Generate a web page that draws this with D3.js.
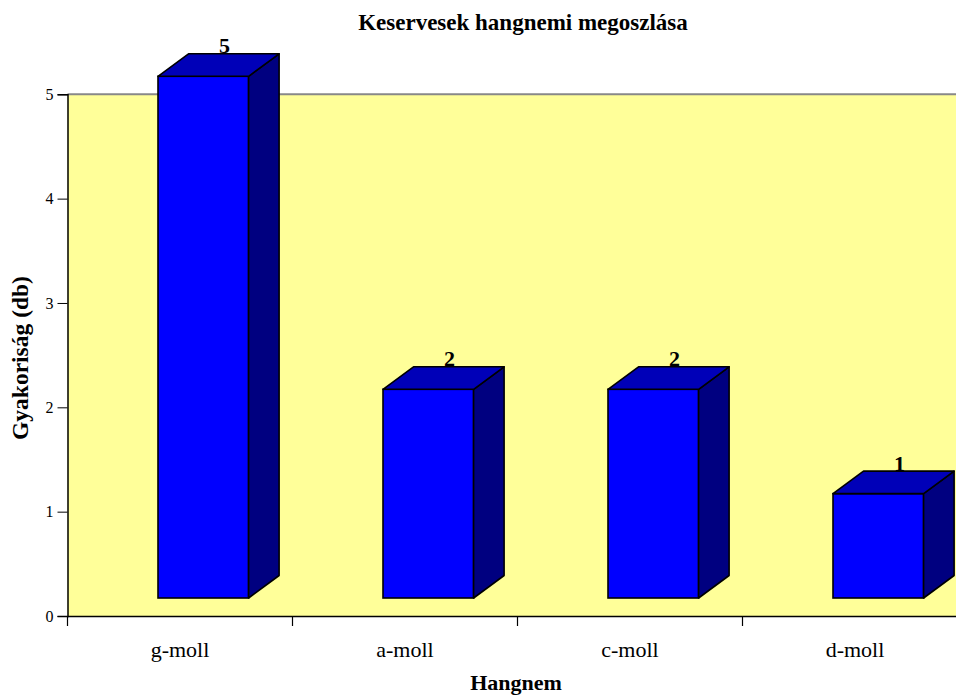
<!DOCTYPE html>
<html><head><meta charset="utf-8">
<script src="https://cdn.jsdelivr.net/npm/d3@7"></script>
<style>body{margin:0;background:#fff}svg{display:block}text{font-family:"Liberation Serif","Times New Roman",serif}</style>
</head><body><svg id="c" width="956" height="696"></svg>
<script>
const categories = ["g-moll", "a-moll", "c-moll", "d-moll"];
const values = [5, 2, 2, 1];
const yTicks = [0, 1, 2, 3, 4, 5];
const title = "Keservesek hangnemi megoszlása";
const xTitle = "Hangnem";
const yTitle = "Gyakoriság (db)";

(function () {
const svg = d3.select("#c");
const pLeft = 67.5, pTop = 94.3, pBottom = 616, bandW = 225;
const x = d3.scaleBand().domain(categories).range([pLeft, pLeft + bandW * categories.length]).padding(0);
const y = d3.scaleLinear().domain([0, 5]).range([pBottom, pTop]);

// plot area
svg.append("rect").attr("x", pLeft).attr("y", pTop).attr("width", 956 - pLeft).attr("height", pBottom - pTop).attr("fill", "#FFFF99");
svg.append("line").attr("x1", pLeft).attr("x2", 956).attr("y1", pTop).attr("y2", pTop).attr("stroke", "#888").attr("stroke-width", 2);

// axes
const yAxis = svg.append("g").attr("transform", `translate(${pLeft},0)`)
  .call(d3.axisLeft(y).tickValues(yTicks).tickSize(10).tickPadding(4).tickFormat(d3.format("d")));
yAxis.attr("font-family", null);
yAxis.select(".domain").attr("stroke", "#000").attr("stroke-width", 1.5);
yAxis.selectAll("text").attr("font-size", 16).attr("fill", "#000").attr("dy", "0.33em");

const xAxis = svg.append("g").attr("transform", `translate(0,${pBottom})`)
  .call(d3.axisBottom(x).tickSize(0));
xAxis.attr("font-family", null);
xAxis.select(".domain").attr("stroke", "#000").attr("stroke-width", 1.5);
xAxis.selectAll("text").attr("font-size", 22).attr("fill", "#000").attr("y", 41).attr("dy", 0);
// boundary ticks
const bounds = d3.range(categories.length + 1).map(i => pLeft + i * bandW);
svg.append("g").selectAll("line").data(bounds).join("line")
  .attr("x1", d => d).attr("x2", d => d).attr("y1", pBottom).attr("y2", pBottom + 10)
  .attr("stroke", "#000").attr("stroke-width", 1.2);

// 3D bars
const off = 90.5, w = 90.6, lift = 18, dx = 30.5, dy = -22.5;
const g = svg.append("g");
categories.forEach((c, i) => {
  const x0 = x(c) + off, x1 = x0 + w;
  const yt = y(values[i]) - lift, yb = y(0) - lift;
  g.append("rect").attr("x", x0).attr("y", yt).attr("width", w).attr("height", yb - yt)
    .attr("fill", "#0000FF").attr("stroke", "#000").attr("stroke-width", 1.6);
  g.append("path").attr("d", `M${x1},${yt}L${x1 + dx},${yt + dy}L${x1 + dx},${yb + dy}L${x1},${yb}Z`)
    .attr("fill", "#000080").attr("stroke", "#000").attr("stroke-width", 1.6).attr("stroke-linejoin", "round");
  g.append("path").attr("d", `M${x0},${yt}L${x0 + dx},${yt + dy}L${x1 + dx},${yt + dy}L${x1},${yt}Z`)
    .attr("fill", "#0000B8").attr("stroke", "#000").attr("stroke-width", 1.6).attr("stroke-linejoin", "round");
  g.append("text").attr("x", x0 + w / 2 + dx / 2 + 6).attr("y", yt + dy - 0.5)
    .attr("text-anchor", "middle").attr("font-size", 22).attr("font-weight", "bold").text(values[i]);
});

// titles
svg.append("text").attr("x", 523).attr("y", 30).attr("text-anchor", "middle")
  .attr("font-size", 23).attr("font-weight", "bold").text(title);
svg.append("text").attr("x", 516).attr("y", 690).attr("text-anchor", "middle")
  .attr("font-size", 22).attr("font-weight", "bold").text(xTitle);
svg.append("text").attr("transform", "translate(28,358) rotate(-90)").attr("text-anchor", "middle")
  .attr("font-size", 23.5).attr("font-weight", "bold").text(yTitle);
})();
</script></body></html>
